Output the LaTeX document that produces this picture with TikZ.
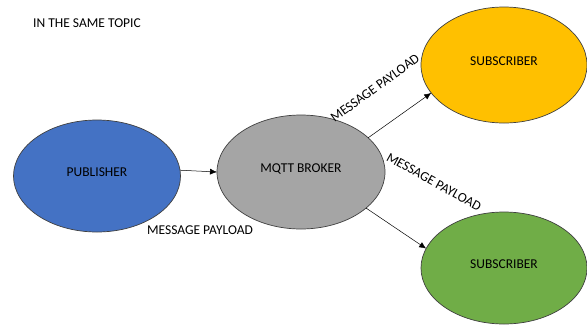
\documentclass[tikz,border=0pt]{standalone}
\usepackage{fontspec}
\setmainfont{Carlito}
\usetikzlibrary{shapes.geometric,arrows.meta}
\definecolor{pubblue}{HTML}{4472C4}
\definecolor{brokergray}{HTML}{A5A5A5}
\definecolor{subgold}{HTML}{FFC000}
\definecolor{subgreen}{HTML}{70AD47}
\tikzset{
  blob/.style={ellipse,draw=black!75,line width=0.7pt,inner sep=0pt,outer sep=0pt,
    text depth=8pt,font=\fontsize{13.5}{15}\selectfont},
  flow/.style={-{Latex[length=7pt,width=6pt]},line width=0.5pt},
  tag/.style={font=\fontsize{13.5}{15}\selectfont,inner sep=0pt}
}
\begin{document}
\begin{tikzpicture}[x=1pt,y=-1pt]
    \useasboundingbox (0,0) rectangle (587,325);
    \node[blob,fill=pubblue,minimum width=167pt,minimum height=112pt] (pub) at (97,176) {PUBLISHER};
    \node[blob,fill=brokergray,minimum width=168pt,minimum height=114pt] (broker) at (301,172) {MQTT BROKER};
    \node[blob,fill=subgold,minimum width=166pt,minimum height=116pt] (subtop) at (504,65) {SUBSCRIBER};
    \node[blob,fill=subgreen,minimum width=166pt,minimum height=112pt] (subbot) at (504,268) {SUBSCRIBER};
    \draw[flow] (pub.4) -- (broker.180);
    \draw[flow] (broker.27) -- (subtop.201);
    \draw[flow] (broker.-29) -- (subbot.166);
    \node[tag,anchor=west] (topic) at (33,23) {IN THE SAME TOPIC};
    \node[tag] (payload) at (200,230) {MESSAGE PAYLOAD};
    \node[tag,rotate=36] (payloadup) at (375,88) {MESSAGE PAYLOAD};
    \node[tag,rotate=-29] (payloaddown) at (434,182) {MESSAGE PAYLOAD};
  \end{tikzpicture}
\end{document}
